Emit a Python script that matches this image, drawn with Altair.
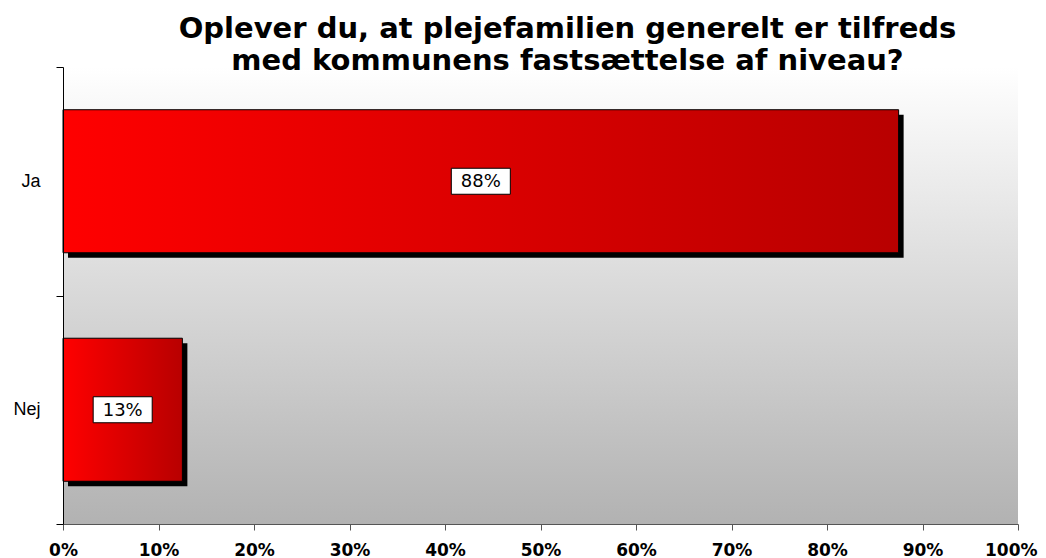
import altair as alt
import pandas as pd

categories = ["Ja", "Nej"]
values = [87.5, 12.5]
labels = ["88%", "13%"]
x_ticks = [0, 10, 20, 30, 40, 50, 60, 70, 80, 90, 100]
title_lines = ["Oplever du, at plejefamilien generelt er tilfreds",
               "med kommunens fastsættelse af niveau?"]

df = pd.DataFrame({"cat": categories, "val": values, "lab": labels})

W, H = 955, 457
BAND = 0.626

base = alt.Chart(df)

y_enc = alt.Y(
    "cat:N", sort=categories,
    scale=alt.Scale(paddingInner=0, paddingOuter=0),
    axis=alt.Axis(title=None, tickBand="extent", domainColor="black", tickColor="black",
                  tickSize=7, labelPadding=16, labelFont="Liberation Sans", labelFontSize=18,
                  labelColor="black", domainWidth=1, zindex=1, labelAngle=0),
)
x_enc = alt.X(
    "val:Q", scale=alt.Scale(domain=[0, 100], nice=False),
    axis=alt.Axis(title=None, values=x_ticks, labelExpr="datum.value + '%'", grid=False,
                  domainColor="#555555", tickColor="#555555", tickSize=6, labelPadding=12,
                  labelFont="DejaVu Sans", labelFontSize=17, labelFontWeight="bold",
                  labelColor="black", zindex=1, labelFlush=False,
                  labelAlign={"condition": {"test": "datum.value == 100", "value": "right"},
                              "value": "center"},
                  labelOffset={"condition": {"test": "datum.value == 100", "value": 19},
                               "value": 0}),
)

bg = alt.Chart(pd.DataFrame({"a": [0]})).mark_rect(
    color=alt.Gradient(gradient="linear", x1=0, x2=0, y1=0, y2=1,
                       stops=[alt.GradientStop(color="#ffffff", offset=0),
                              alt.GradientStop(color="#b2b2b2", offset=1)])
).encode(x=alt.value(0), x2=alt.value(W), y=alt.value(0), y2=alt.value(H))

shadow = base.mark_bar(color="black", xOffset=5, yOffset=5,
                       height=alt.RelativeBandSize(band=BAND)).encode(x=x_enc, y=y_enc)

bars = base.mark_bar(
    color=alt.Gradient(gradient="linear", x1=0, x2=1, y1=0, y2=0,
                       stops=[alt.GradientStop(color="#ff0000", offset=0),
                              alt.GradientStop(color="#b80000", offset=1)]),
    stroke="black", strokeWidth=1, height=alt.RelativeBandSize(band=BAND),
).encode(x=x_enc, y=y_enc)

boxes = base.transform_calculate(mid="datum.val / 2").mark_point(
    shape="M-2.27,-1L2.27,-1L2.27,1L-2.27,1Z", filled=True, fill="white",
    stroke="black", strokeWidth=1, size=676, opacity=1,
).encode(x=alt.X("mid:Q"), y=alt.Y("cat:N", sort=categories))

texts = base.transform_calculate(mid="datum.val / 2").mark_text(
    font="DejaVu Sans", fontSize=18, color="black", baseline="middle", align="center", dy=1,
).encode(x=alt.X("mid:Q"), y=alt.Y("cat:N", sort=categories), text="lab:N")

chart = alt.layer(bg, shadow, bars, boxes, texts).properties(
    width=W, height=H,
    title=alt.TitleParams(text=title_lines, font="DejaVu Sans", fontSize=29, fontWeight="bold",
                          color="black", anchor="middle", dx=27, dy=41, lineHeight=32,
                          baseline="bottom", offset=-6),
    autosize=alt.AutoSizeParams(type="none"),
    padding={"left": 55, "top": 59, "right": 20, "bottom": 34},
).configure_view(stroke=None)

chart.save("out.html", embed_options={"renderer": "svg", "actions": False})
